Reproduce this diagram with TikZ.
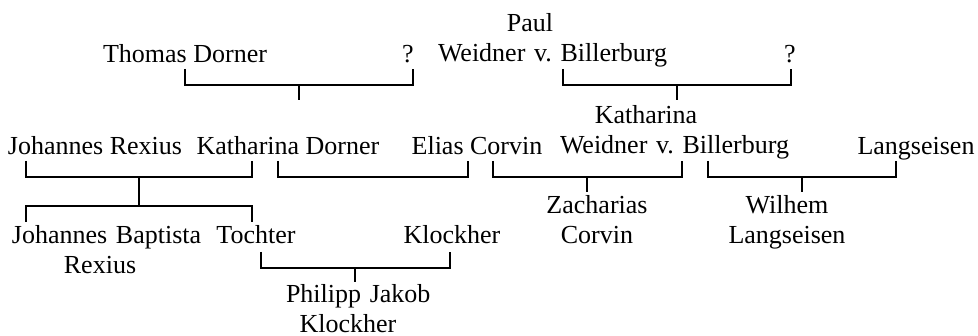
\documentclass[tikz,border=0pt]{standalone}
\usepackage{fontspec}
\setmainfont{Liberation Serif}
\newcommand\spill[1]{\makebox[\hsize][l]{#1}}

\begin{document}
\begin{tikzpicture}[x=1pt, y=-1pt,
    person/.style={anchor=base, inner sep=0pt, align=center, font=\fontsize{26}{30}\selectfont\frenchspacing},
    couple/.style={line width=2pt}]
  \useasboundingbox (0, 0) rectangle (978, 336);

  % first generation
  \node[person] (thomas) at (185, 63) {Thomas Dorner};
  \node[person] (unknowna) at (408, 63) {?};
  \node[person, text width=184pt] (paul) at (530, 32) {Paul\\\spill{Weidner v. Billerburg}};
  \node[person] (unknownb) at (790, 63) {?};

  % second generation
  \node[person] (jrexius) at (95, 155) {Johannes Rexius};
  \node[person] (kdorner) at (288, 155) {Katharina Dorner};
  \node[person] (elias) at (477, 155) {Elias Corvin};
  \node[person, text width=172pt] (kweidner) at (646, 124) {Katharina\\\spill{Weidner v. Billerburg}};
  \node[person] (langseisen) at (916, 155) {Langseisen};

  % third generation
  \node[person, text width=176pt] (jbaptista) at (100, 244) {\spill{Johannes Baptista}\\Rexius};
  \node[person] (tochter) at (256, 244) {Tochter};
  \node[person] (klockher) at (452, 244) {Klockher};
  \node[person, text width=130pt] (zacharias) at (597, 214) {Zacharias\\Corvin};
  \node[person, text width=130pt] (wilhem) at (787, 214) {Wilhem\\Langseisen};

  % fourth generation
  \node[person, text width=124pt] (philipp) at (348, 303) {\spill{Philipp Jakob}\\Klockher};

  % line ends below the names
  \coordinate (thomas-c) at (185, 69);
  \coordinate (unknowna-c) at (413, 69);
  \coordinate (paul-c) at (563, 69);
  \coordinate (unknownb-c) at (791, 69);
  \coordinate (jrexius-c) at (26, 161);
  \coordinate (kdorner-c) at (252, 161);
  \coordinate (kdorner-d) at (278, 161);
  \coordinate (elias-c) at (468, 161);
  \coordinate (elias-d) at (493, 161);
  \coordinate (kweidner-c) at (682, 161);
  \coordinate (kweidner-d) at (708, 161);
  \coordinate (langseisen-c) at (896, 161);
  \coordinate (jbaptista-c) at (26, 222);
  \coordinate (tochter-c) at (252, 222);
  \coordinate (tochter-d) at (261, 252);
  \coordinate (klockher-c) at (450, 252);

  % marriages
  \draw[couple] (thomas-c) -- ++(0, 16) -| (unknowna-c);
  \draw[couple] (paul-c) -- ++(0, 16) -| (unknownb-c);
  \draw[couple] (jrexius-c) -- ++(0, 16) -| (kdorner-c);
  \draw[couple] (kdorner-d) -- ++(0, 16) -| (elias-c);
  \draw[couple] (elias-d) -- ++(0, 16) -| (kweidner-c);
  \draw[couple] (kweidner-d) -- ++(0, 16) -| (langseisen-c);
  \draw[couple] (tochter-d) -- ++(0, 16) -| (klockher-c);

  % descent
  \draw[couple] (299, 85) -- (299, 100);
  \draw[couple] (677, 85) -- (677, 100);
  \draw[couple] (139, 177) -- (139, 206);
  \draw[couple] (jbaptista-c) -- ++(0, -16) -| (tochter-c);
  \draw[couple] (587, 177) -- (587, 192);
  \draw[couple] (802, 177) -- (802, 192);
  \draw[couple] (355, 268) -- (355, 282);
\end{tikzpicture}
\end{document}
